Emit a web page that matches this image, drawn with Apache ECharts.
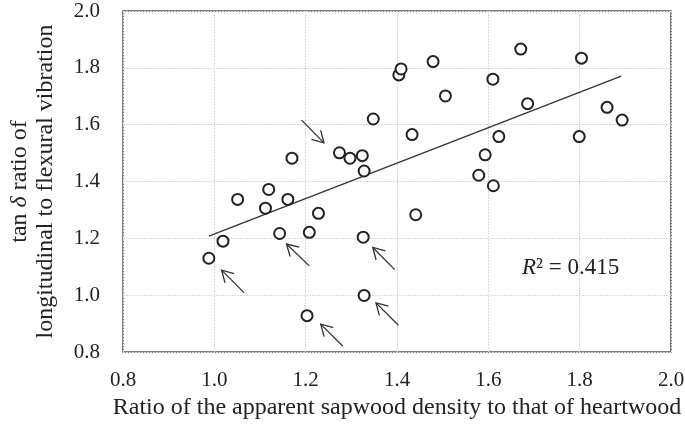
<!DOCTYPE html>
<html>
<head>
<meta charset="utf-8">
<script src="https://cdn.jsdelivr.net/npm/echarts@6/dist/echarts.min.js"></script>
<style>html,body{margin:0;padding:0;background:#fff}#c{width:685px;height:428px}</style>
</head>
<body>
<div id="c"></div>
<script>
// Data
const xValues = [0.988,1.019,1.051,1.112,1.119,1.143,1.161,1.170,1.208,1.228,1.203,1.274,1.297,1.324,1.328,1.326,1.328,1.348,1.404,1.409,1.433,1.441,1.479,1.506,1.579,1.593,1.611,1.610,1.623,1.671,1.686,1.799,1.804,1.860,1.893];
const yValues = [1.130,1.190,1.337,1.306,1.372,1.217,1.337,1.482,1.221,1.288,0.928,1.501,1.482,1.491,1.437,1.204,0.999,1.620,1.775,1.796,1.565,1.283,1.822,1.701,1.422,1.494,1.385,1.760,1.558,1.866,1.674,1.558,1.834,1.661,1.616];
const trendX = [0.988, 1.891];
const trendY = [1.208, 1.771];
const arrowTailX = [1.191, 1.065, 1.208, 1.395, 1.403, 1.281];
const arrowTailY = [1.616, 1.009, 1.103, 1.090, 0.894, 0.821];
const arrowTipX  = [1.240, 1.016, 1.158, 1.347, 1.354, 1.233];
const arrowTipY  = [1.536, 1.088, 1.180, 1.168, 0.973, 0.898];
const xTicks = ['0.8','1.0','1.2','1.4','1.6','1.8','2.0'];
const yTicks = ['0.8','1.0','1.2','1.4','1.6','1.8','2.0'];
const r2Text = '0.415';

const FONT = '"Liberation Serif", "Times New Roman", serif';
const chart = echarts.init(document.getElementById('c'), null, {renderer: 'canvas'});

const points = xValues.map((x, i) => [x, yValues[i]]);
const trend = trendX.map((x, i) => [x, trendY[i]]);
const arrows = arrowTailX.map((x, i) => [x, arrowTailY[i], arrowTipX[i], arrowTipY[i]]);

const gridStyle = {show: true, lineStyle: {color: '#d9d9d9', width: 1, type: [2, 1]}};

chart.setOption({
  animation: false,
  backgroundColor: '#fff',
  grid: {left: 123, right: 14, top: 11, bottom: 76, show: true, borderColor: '#555', borderWidth: 1.5,
         backgroundColor: 'transparent', containLabel: false, outerBoundsMode: 'none'},
  xAxis: {
    type: 'value', min: 0.8, max: 2.0, interval: 0.2,
    axisLine: {show: false}, axisTick: {show: false},
    splitLine: gridStyle,
    axisLabel: {fontFamily: FONT, fontSize: 21, color: '#222', margin: 18,
      formatter: (v) => xTicks[Math.round((v - 0.8) / 0.2)]},
    name: 'Ratio of the apparent sapwood density to that of heartwood',
    nameLocation: 'middle', nameGap: 44,
    nameTextStyle: {fontFamily: FONT, fontSize: 24, color: '#222'}
  },
  yAxis: {
    type: 'value', min: 0.8, max: 2.0, interval: 0.2,
    axisLine: {show: false}, axisTick: {show: false},
    splitLine: gridStyle,
    axisLabel: {fontFamily: FONT, fontSize: 21, color: '#222', margin: 23,
      formatter: (v) => yTicks[Math.round((v - 0.8) / 0.2)]},
    name: 'tan {d|δ} ratio of\nlongitudinal to flexural vibration',
    nameLocation: 'middle', nameGap: 64, nameRotate: 90,
    nameTextStyle: {fontFamily: FONT, fontSize: 24, color: '#222', lineHeight: 26,
      rich: {d: {fontFamily: FONT, fontSize: 24, fontStyle: 'italic', color: '#222', lineHeight: 26}}}
  },
  series: [
    {
      type: 'line', data: trend, symbol: 'none', silent: true,
      lineStyle: {color: '#333', width: 1.3}, z: 2
    },
    {
      type: 'scatter', data: points, symbol: 'circle', symbolSize: 11,
      itemStyle: {color: '#fff', borderColor: '#222', borderWidth: 2, opacity: 1}, z: 3
    },
    {
      type: 'custom', data: arrows, silent: true, z: 4,
      encode: {x: [0, 2], y: [1, 3]},
      renderItem: function (params, api) {
        const p0 = api.coord([api.value(0), api.value(1)]);
        const p1 = api.coord([api.value(2), api.value(3)]);
        const a = Math.atan2(p1[1] - p0[1], p1[0] - p0[0]);
        const L = 13, h = Math.PI / 6;
        const b1 = [p1[0] - L * Math.cos(a - h), p1[1] - L * Math.sin(a - h)];
        const b2 = [p1[0] - L * Math.cos(a + h), p1[1] - L * Math.sin(a + h)];
        const st = {stroke: '#333', lineWidth: 1.3, fill: null};
        return {
          type: 'group',
          children: [
            {type: 'line', shape: {x1: p0[0], y1: p0[1], x2: p1[0], y2: p1[1]}, style: st},
            {type: 'polyline', shape: {points: [b1, p1, b2]}, style: st}
          ]
        };
      }
    }
  ],
  graphic: [
    {
      type: 'text', left: 522, top: 256, z: 10,
      style: {
        text: '{r|R}² = ' + r2Text,
        fontFamily: FONT, fontSize: 23, fill: '#222',
        rich: {r: {fontFamily: FONT, fontSize: 23, fontStyle: 'italic', fill: '#222'}}
      }
    }
  ]
});
</script>
</body>
</html>
